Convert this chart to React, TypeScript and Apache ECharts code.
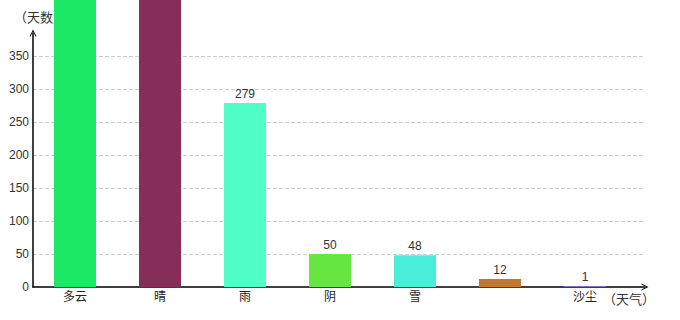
import React, { useEffect, useRef } from "react";
import * as echarts from "echarts";

const categories = ["多云", "晴", "雨", "阴", "雪", "", "沙尘"];
const days = [720, 650, 279, 50, 48, 12, 1];
const barColors = ["#1DE866", "#862D5A", "#4FFFC6", "#66E640", "#49EDD8", "#C4762C", "#A57BE0"];
const yMax = 385;
const yInterval = 50;

const FONT = 'Arial, "Liberation Sans", "Noto Sans CJK SC", sans-serif';
const chevron = "path://M0,10 L5,0 L10,10 L8.6,10 L5,3 L1.4,10 Z";

export default function App() {
  const ref = useRef<HTMLDivElement>(null);
  useEffect(() => {
    document.body.style.margin = "0";
    const chart = echarts.init(ref.current!, null, { renderer: "svg" });
    chart.setOption({
      animation: false,
      textStyle: { fontFamily: FONT },
      grid: [
        { left: 33, right: 35, top: 33, bottom: 33 },
        { left: 32.5, width: 595, top: 33, bottom: 33 },
      ],
      xAxis: [
        {
          type: "value",
          gridIndex: 0,
          min: 0,
          max: 1,
          axisLine: {
            show: true,
            symbol: ["none", chevron],
            symbolSize: [8, 7],
            lineStyle: { color: "#000", width: 1.5 },
          },
          axisTick: { show: false },
          axisLabel: { show: false },
          splitLine: { show: false },
          name: "（天气）",
          nameLocation: "end",
          nameGap: 10,
          nameTextStyle: {
            color: "#333",
            fontSize: 13,
            fontFamily: FONT,
            align: "right",
            verticalAlign: "top",
            padding: [6, 0, 0, 0],
          },
        },
        {
          type: "category",
          gridIndex: 1,
          data: categories,
          axisLine: { show: false },
          axisTick: { show: false },
          axisLabel: { color: "#222", fontSize: 12, margin: 4, interval: 0, fontFamily: FONT },
        },
      ],
      yAxis: [
        {
          type: "value",
          gridIndex: 0,
          min: 0,
          max: yMax,
          interval: yInterval,
          axisLine: {
            show: true,
            symbol: ["none", chevron],
            symbolSize: [8, 7],
            lineStyle: { color: "#000", width: 1.5 },
          },
          axisTick: { show: false },
          axisLabel: {
            color: "#333",
            fontSize: 12,
            margin: 4,
            showMaxLabel: false,
            fontFamily: FONT,
          },
          splitLine: {
            show: true,
            showMinLine: false,
            showMaxLine: false,
            lineStyle: { color: "#ccc", type: "dashed", width: 1 },
          },
          name: "（天数）",
          nameLocation: "end",
          nameGap: 9,
          nameTextStyle: { color: "#333", fontSize: 13, fontFamily: FONT, padding: [0, 0, 0, 14] },
        },
        {
          type: "value",
          gridIndex: 1,
          min: 0,
          max: yMax,
          show: false,
        },
      ],
      series: [
        {
          type: "bar",
          xAxisIndex: 1,
          yAxisIndex: 1,
          clip: false,
          barWidth: 42,
          data: days.map((v, i) => ({
            value: v,
            itemStyle: { color: barColors[i] },
            label: { show: v <= yMax },
          })),
          label: {
            position: "top",
            distance: 3,
            color: "#333",
            fontSize: 12,
            fontFamily: FONT,
          },
        },
      ],
    });
    return () => chart.dispose();
  }, []);
  return <div ref={ref} style={{ width: 680, height: 320 }} />;
}
